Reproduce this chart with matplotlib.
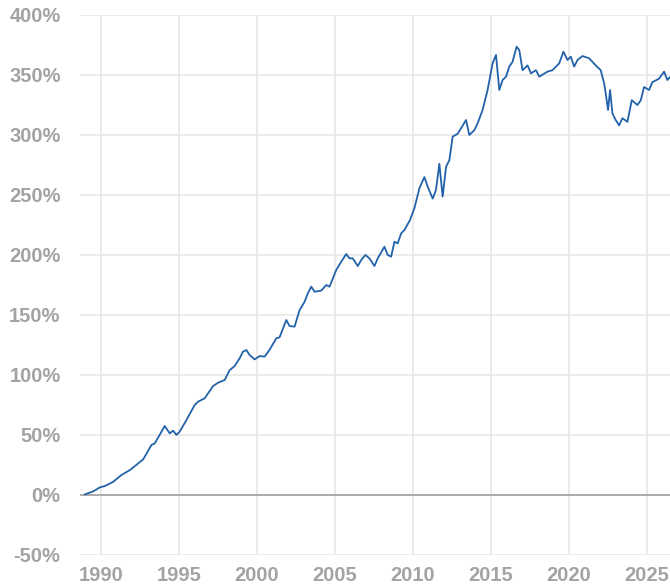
import matplotlib
matplotlib.use("Agg")
import matplotlib.pyplot as plt
from matplotlib.ticker import FuncFormatter

years = [1988.98, 1989.5, 1989.94, 1990.26, 1990.79, 1991.32, 1991.86, 1992.39, 1992.71,
         1993.24, 1993.45, 1993.88, 1994.09, 1994.41, 1994.63, 1994.84, 1995.05, 1995.48,
         1996.01, 1996.23, 1996.65, 1997.19, 1997.51, 1997.93, 1998.25, 1998.57, 1998.89,
         1999.10, 1999.32, 1999.53, 1999.85, 2000.17, 2000.49, 2000.81, 2001.24, 2001.45,
         2001.88, 2002.09, 2002.41, 2002.73, 2003.05, 2003.26, 2003.48, 2003.69, 2004.12,
         2004.44, 2004.65, 2005.08, 2005.40, 2005.72, 2005.93, 2006.14, 2006.46, 2006.68,
         2006.95, 2007.21, 2007.53, 2007.74, 2008.17, 2008.38, 2008.60, 2008.81, 2009.02,
         2009.24, 2009.45, 2009.80, 2010.09, 2010.41, 2010.73, 2010.94, 2011.26, 2011.47,
         2011.69, 2011.90, 2012.12, 2012.33, 2012.54, 2012.86, 2013.08, 2013.40, 2013.61,
         2013.93, 2014.14, 2014.46, 2014.78, 2015.10, 2015.32, 2015.53, 2015.74, 2015.96,
         2016.17, 2016.38, 2016.64, 2016.81, 2017.02, 2017.34, 2017.56, 2017.88, 2018.09,
         2018.62, 2018.94, 2019.37, 2019.64, 2019.90, 2020.11, 2020.33, 2020.54, 2020.86,
         2021.29, 2021.71, 2022.03, 2022.25, 2022.35, 2022.50, 2022.63, 2022.78, 2022.99,
         2023.21, 2023.42, 2023.74, 2024.02, 2024.38, 2024.60, 2024.81, 2025.13, 2025.34,
         2025.77, 2026.09, 2026.30, 2026.45]
returns = [0.5, 3.0, 6.4, 7.5, 11.0, 16.7, 20.8, 26.4, 29.7,
           41.7, 43.0, 52.8, 57.5, 51.4, 53.6, 50.0, 52.8, 62.5,
           75.0, 77.8, 80.6, 90.8, 93.6, 95.8, 104.0, 107.5, 113.9,
           119.4, 120.8, 116.7, 113.0, 115.8, 115.3, 121.0, 130.6, 131.4,
           145.8, 140.8, 140.3, 154.0, 161.0, 168.0, 173.6, 169.4, 170.3,
           175.0, 173.6, 187.5, 194.4, 200.8, 197.2, 197.2, 190.8, 195.8,
           200.0, 197.2, 190.8, 197.2, 206.9, 200.0, 198.6, 211.0, 209.7,
           218.0, 220.8, 229.0, 239.0, 255.6, 265.0, 257.0, 247.0, 254.0,
           276.0, 248.6, 273.6, 279.0, 298.6, 301.0, 305.6, 312.5, 300.0,
           304.0, 309.7, 320.8, 337.5, 359.7, 366.7, 337.5, 345.8, 348.6,
           357.0, 361.0, 373.6, 370.8, 354.0, 358.0, 351.4, 354.0, 348.6,
           352.8, 354.0, 359.7, 369.4, 362.5, 365.3, 357.0, 362.5, 365.8,
           363.9, 358.0, 354.0, 343.0, 334.7, 320.8, 337.5, 318.0, 312.5,
           308.0, 314.0, 311.0, 329.0, 325.0, 329.0, 340.0, 337.5, 344.0,
           347.0, 352.8, 345.8, 348.0]
x_ticks = [1990, 1995, 2000, 2005, 2010, 2015, 2020, 2025]
y_ticks = [-50, 0, 50, 100, 150, 200, 250, 300, 350, 400]

plt.rcParams['font.family'] = ['Liberation Sans', 'DejaVu Sans']
fig = plt.figure(figsize=(6.7, 5.85), dpi=100)
ax = fig.add_axes([80/670, 1-555/585, 590/670, 540/585])

ax.plot(years, returns, color='#2262aa', lw=1.3, zorder=3)
ax.axhline(0, color='#999999', lw=1.1, zorder=2)

ax.set_xlim(1988.66, 2026.47)
ax.set_ylim(-50, 400)
ax.set_xticks(x_ticks)
ax.set_yticks(y_ticks)
ax.yaxis.set_major_formatter(FuncFormatter(lambda v, p: f"{int(v)}%"))
ax.grid(True, color='#e6e6e6', lw=1.1, zorder=0)
for s in ax.spines.values():
    s.set_visible(False)
ax.tick_params(length=0, labelsize=14.5, labelcolor='#a3a3a3')
ax.tick_params(axis='y', pad=14)
ax.tick_params(axis='x', pad=8)
for lab in ax.get_xticklabels() + ax.get_yticklabels():
    lab.set_fontweight('bold')

fig.savefig('out.png', dpi=100)
